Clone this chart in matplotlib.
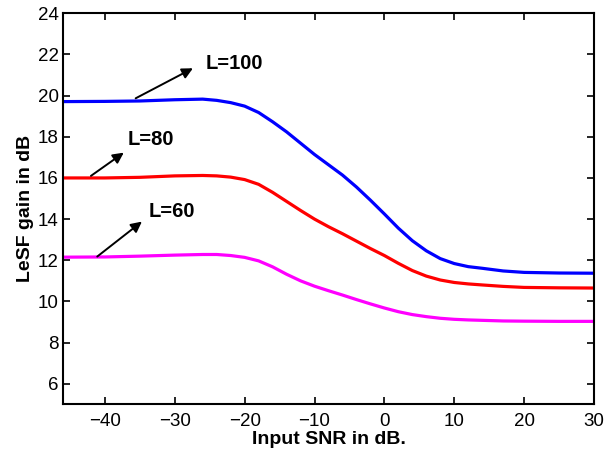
import numpy as np
import matplotlib.pyplot as plt

plt.rcParams['font.family'] = ['Liberation Sans', 'DejaVu Sans']

# Input SNR (dB)
snr = [-46, -40, -35, -30, -26, -24, -22, -20, -18, -16, -14, -12, -10, -8, -6,
       -4, -2, 0, 2, 4, 6, 8, 10, 12, 14, 17, 20, 25, 30]

# LeSF gain (dB) for each filter length
gain_L100 = [19.71, 19.72, 19.74, 19.80, 19.83, 19.77, 19.66, 19.49, 19.18, 18.73,
             18.24, 17.69, 17.14, 16.64, 16.14, 15.56, 14.92, 14.25, 13.56, 12.95,
             12.46, 12.08, 11.84, 11.69, 11.61, 11.48, 11.41, 11.38, 11.37]
gain_L80 = [16.00, 16.00, 16.03, 16.10, 16.12, 16.10, 16.04, 15.92, 15.69, 15.30,
            14.86, 14.42, 14.00, 13.63, 13.29, 12.93, 12.57, 12.23, 11.85, 11.50,
            11.23, 11.04, 10.92, 10.85, 10.80, 10.73, 10.68, 10.66, 10.65]
gain_L60 = [12.15, 12.16, 12.20, 12.25, 12.28, 12.28, 12.23, 12.14, 11.97, 11.68,
            11.32, 11.00, 10.74, 10.52, 10.31, 10.09, 9.88, 9.68, 9.50, 9.36,
            9.26, 9.18, 9.13, 9.10, 9.08, 9.05, 9.04, 9.03, 9.03]

labels = ['L=100', 'L=80', 'L=60']
colors = ['#0000ff', '#ff0000', '#ff00ff']

fig = plt.figure(figsize=(6.04, 4.53), dpi=100)
ax = fig.add_axes([0.1043, 0.1075, 0.8791, 0.8631])

for g, c in zip([gain_L100, gain_L80, gain_L60], colors):
    ax.plot(snr, g, color=c, linewidth=2.3, solid_joinstyle='round')

# arrows pointing at each curve, with the label near the arrow head
arrows = [((-35.6, 19.87), (-27.4, 21.33), (-25.6, 21.57)),
          ((-42.0, 16.10), (-37.3, 17.23), (-36.8, 17.88)),
          ((-41.1, 12.18), (-34.7, 13.88), (-33.7, 14.37))]
for lab, (tail, head, txt) in zip(labels, arrows):
    ax.annotate('', xy=head, xytext=tail,
                arrowprops=dict(arrowstyle='-|>', color='k', lw=1.4,
                                mutation_scale=16, shrinkA=0, shrinkB=0))
    ax.text(txt[0], txt[1], lab, fontsize=14.5, fontweight='bold',
            ha='left', va='center')

ax.set_xlim(-46, 30)
ax.set_ylim(5, 24)
ax.set_xticks(np.arange(-40, 31, 10))
ax.set_yticks(np.arange(6, 25, 2))
ax.tick_params(direction='in', length=5, width=1.2, labelsize=13.5,
               top=True, right=True)
ax.tick_params(axis='x', pad=6)
ax.tick_params(axis='y', pad=3)
for s in ax.spines.values():
    s.set_linewidth(1.5)

ax.set_xlabel('Input SNR in dB.', fontsize=14, fontweight='bold', labelpad=1)
ax.set_ylabel('LeSF gain in dB', fontsize=14, fontweight='bold', labelpad=3)

fig.savefig('out.png', dpi=100, facecolor='white')
